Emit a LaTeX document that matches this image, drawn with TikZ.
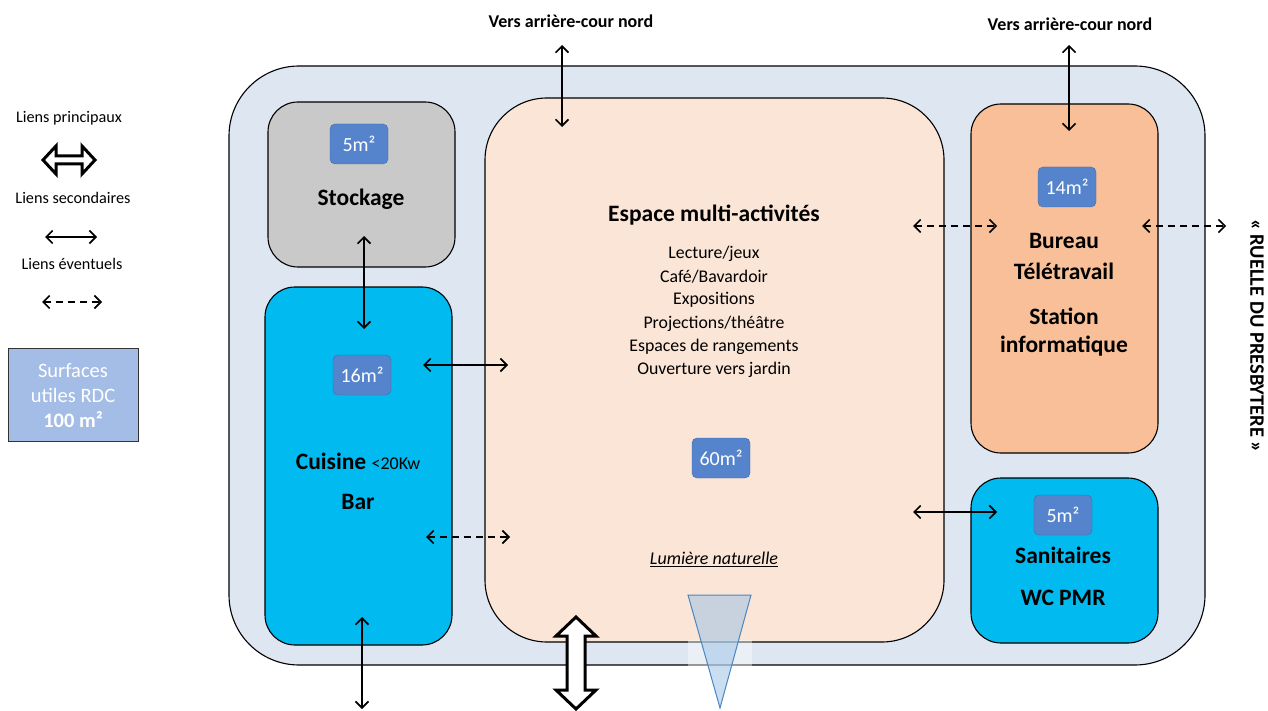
\documentclass[tikz,border=0pt]{standalone}
\usepackage{fontspec}
\setmainfont{Carlito}
\usetikzlibrary{arrows.meta}
\definecolor{outerc}{HTML}{DEE6F2}
\definecolor{centc}{HTML}{FBE5D6}
\definecolor{grayc}{HTML}{C9C9C9}
\definecolor{cyanc}{HTML}{00BAF0}
\definecolor{orc}{HTML}{F8BF98}
\definecolor{badgec}{HTML}{5584CC}
\definecolor{badgeb}{HTML}{3F6CA8}
\definecolor{legc}{HTML}{A4BDE6}
\definecolor{tric}{HTML}{9DC3E6}
\definecolor{trib}{HTML}{4A86BF}
\tikzset{
  room/.style={draw=black, line width=1.1pt},
  badge/.style={draw=badgeb, fill=badgec, rounded corners=5pt, minimum width=58pt, minimum height=40pt, text=white, font=\fontsize{20}{24}\selectfont, inner sep=0pt},
  lbl/.style={font=\fontsize{23.5}{28}\selectfont\bfseries, inner sep=0pt},
  item/.style={font=\fontsize{17.8}{21}\selectfont, inner sep=0pt},
  small/.style={font=\fontsize{16.2}{19}\selectfont, inner sep=0pt},
  link/.style={line width=1.6pt, {Straight Barb[length=6.5pt,width=13pt,line width=1.6pt]}-{Straight Barb[length=6.5pt,width=13pt,line width=1.6pt]}},
  maybe/.style={link, dashed, dash pattern=on 7pt off 5pt},
  bigarrow/.style={draw=black, line width=3pt, fill=white, line join=miter},
}
\begin{document}
\begin{tikzpicture}[x=1pt,y=-1pt]
\useasboundingbox (0,0) rectangle (1268,711);
% outer building
\draw[room, fill=outerc, rounded corners=70pt] (229,66) rectangle (1205,665);
% rooms
\draw[room, fill=grayc, rounded corners=30pt] (268,102) rectangle (455,267);
\draw[room, fill=cyanc, rounded corners=30pt] (265,287) rectangle (452,645);
\draw[room, fill=centc, rounded corners=62pt] (485,98) rectangle (944,642);
\draw[room, fill=orc, rounded corners=30pt] (971,104) rectangle (1158,453);
\draw[room, fill=cyanc, rounded corners=30pt] (971,478) rectangle (1158,643);
% badges
\node[badge] (b1) at (359,144) {5m²};
\node[badge] (b2) at (362,375) {16m²};
\node[badge] (b3) at (721,458) {60m²};
\node[badge] (b4) at (1067,187) {14m²};
\node[badge] (b5) at (1063,515) {5m²};
% labels
\node[lbl] (stock) at (361,199) {Stockage};
\node[lbl] (cuis) at (358,461) {Cuisine \fontsize{18}{21}\selectfont\mdseries <20Kw};
\node[lbl] (bar) at (358,502) {Bar};
\node[lbl] (esp) at (714,215) {Espace multi-activités};
\node[item] (i1) at (714,254) {Lecture/jeux};
\node[item] (i2) at (714,277) {Café/Bavardoir};
\node[item] (i3) at (714,300) {Expositions};
\node[item] (i4) at (714,324) {Projections/théâtre};
\node[item] (i5) at (714,347) {Espaces de rangements};
\node[item] (i6) at (714,370) {Ouverture vers jardin};
\node[item, font=\fontsize{18}{21}\selectfont\itshape] (lum) at (714,559) {\underline{Lumière naturelle}};
\node[lbl] (bur) at (1064,241) {Bureau};
\node[lbl] (tele) at (1064,271) {Télétravail};
\node[lbl] (stat) at (1064,316) {Station};
\node[lbl] (info) at (1064,346) {informatique};
\node[lbl] (sani) at (1063,555) {Sanitaires};
\node[lbl] (wc) at (1063,598) {WC PMR};
\node[small, font=\fontsize{18}{21}\selectfont\bfseries] (n1) at (571,21) {Vers arrière-cour nord};
\node[small, font=\fontsize{18}{21}\selectfont\bfseries] (n2) at (1070,24) {Vers arrière-cour nord};
\node[small, font=\fontsize{20.5}{24}\selectfont\bfseries, rotate=-90] (ruelle) at (1257,336) {« RUELLE DU PRESBYTERE »};
% window / natural light
\fill[white, opacity=0.4] (688,640) rectangle (752,668);
\draw[draw=trib, line width=1pt, fill=tric, fill opacity=0.55] (688,595) -- (751,595) -- (720,708) -- cycle;
% connectors
\coordinate (a1s) at (562,45); \coordinate (a1e) at (562,127);
\coordinate (a2s) at (1069,45); \coordinate (a2e) at (1069,131);
\coordinate (a3s) at (364,236); \coordinate (a3e) at (364,329);
\coordinate (a4s) at (423,365); \coordinate (a4e) at (508,365);
\coordinate (a5s) at (426,537); \coordinate (a5e) at (510,537);
\coordinate (a6s) at (362,617); \coordinate (a6e) at (362,709);
\coordinate (a7s) at (913,226); \coordinate (a7e) at (997,226);
\coordinate (a8s) at (1142,226); \coordinate (a8e) at (1226,226);
\coordinate (a9s) at (913,512); \coordinate (a9e) at (997,512);
\draw[link] (a1s) -- (a1e);
\draw[link] (a2s) -- (a2e);
\draw[link] (a3s) -- (a3e);
\draw[link] (a4s) -- (a4e);
\draw[maybe] (a5s) -- (a5e);
\draw[link] (a6s) -- (a6e);
\draw[maybe] (a7s) -- (a7e);
\draw[maybe] (a8s) -- (a8e);
\draw[link] (a9s) -- (a9e);
% main entrance arrow
\draw[bigarrow] (576,617) -- (596,636) -- (585,636) -- (585,690) -- (596,690) -- (576,709) -- (556,690) -- (567,690) -- (567,636) -- (556,636) -- cycle;
% legend
\node[small] (l1) at (69,118) {Liens principaux};
\draw[bigarrow] (43,160) -- (56,146) -- (56,156) -- (82,156) -- (82,146) -- (95,160) -- (82,174) -- (82,164) -- (56,164) -- (56,174) -- cycle;
\node[small] (l2) at (73,198) {Liens secondaires};
\coordinate (lg1s) at (45,237); \coordinate (lg1e) at (97,237);
\draw[link] (lg1s) -- (lg1e);
\node[small] (l3) at (72,264) {Liens éventuels};
\coordinate (lg2s) at (42,302); \coordinate (lg2e) at (102,302);
\draw[maybe] (lg2s) -- (lg2e);
\draw[draw=black!80, line width=1pt, fill=legc] (8,348) rectangle (138,441);
\node[item, text=white, font=\fontsize{20.5}{24}\selectfont] (s1) at (73,371) {Surfaces};
\node[item, text=white, font=\fontsize{20.5}{24}\selectfont] (s2) at (73,395) {utiles RDC};
\node[item, text=white, font=\fontsize{20.5}{24}\selectfont\bfseries] (s3) at (73,420) {100 m²};
\end{tikzpicture}
\end{document}
